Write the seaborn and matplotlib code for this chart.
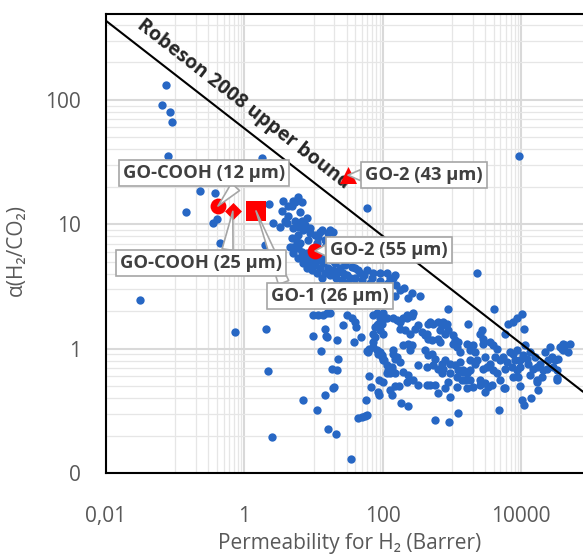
import matplotlib
matplotlib.use("Agg")
import matplotlib.pyplot as plt
from matplotlib.ticker import FixedLocator, FixedFormatter, NullFormatter
import pandas as pd
import seaborn as sns

# literature membranes: log10 of H2 permeability (Barrer) and log10 of H2/CO2 selectivity
log_perm = [
    -1.13, -1.19, -1.08, -1.05, -1.10, -0.64, -0.42, -0.84, -0.45, -0.40,
    0.25, 0.37, -0.35, -1.51, -0.14, 0.31, 0.34, 0.40, 3.97, 1.77,
    3.36,
    0.36, 0.54, 0.41, 0.51, 0.30, 0.69, 0.73, 0.77, 0.83, 0.70,
    0.62, 0.70, 0.73, 0.83, 0.90, 0.77, 0.85, 0.95, 0.77, 0.76,
    0.70, 0.95, 1.02, 1.09, 1.16, 1.05, 1.28, 1.12, 1.21, 1.24,
    1.28, 0.66, 0.70, 0.77, 0.85, 0.90, 0.98, 1.05, 1.12, 0.90,
    0.98, 1.06, 1.14, 1.21, 1.28, 1.34, 0.77, 0.83, 1.14, 1.24,
    1.27, 1.31, 1.38, 1.42, 1.48, 1.53, 1.60, 1.19, 1.48, 1.60,
    1.77, 1.96, 2.10, 2.18, 2.06, 1.86, 2.15, 1.67, 1.45, 1.70,
    1.82, 1.93, 2.03, 2.25, 2.36, 2.18,
    0.63, 0.69, 0.80, 0.88, 0.92, 0.99, 1.06, 0.80, 0.88, 0.95,
    1.02, 1.09, 1.16, 1.24, 1.32, 1.41, 1.50, 1.60, 1.70, 1.82,
    1.93, 2.03, 1.38, 1.45, 1.55, 1.64, 1.73, 1.84, 1.96, 2.08,
    2.19, 2.31, 2.42, 2.54, 0.56, 0.63, 1.16, 1.06, 0.59,
    0.99, 1.06, 1.14, 1.19, 0.99, 1.16, 1.18, 1.34, 1.11, 1.35,
    1.27, 1.34, 1.42, 1.48, 1.55, 1.60, 1.58, 1.61, 1.69, 1.19,
    1.24, 1.16, 1.28, 0.85, 1.05, 1.29, 1.21, 1.32, 1.54, 1.64,
    1.70, 1.74, 1.77, 1.76, 1.83, 1.93, 1.95, 2.10, 2.13, 2.18,
    2.26, 2.36, 2.00, 2.35, 1.80, 1.95,
    1.77, 1.80, 1.86, 1.92, 1.96, 1.99, 2.02, 2.06, 2.08, 2.13,
    2.10, 1.86, 1.89, 1.93, 1.96, 2.00, 1.92, 2.00, 2.06, 1.86,
    1.96, 2.03, 1.99, 1.92, 2.15, 2.21, 2.25, 2.29, 2.35, 2.44,
    2.25, 2.32, 2.39, 2.47, 2.51, 2.57, 2.61, 2.65, 2.68, 2.73,
    2.80, 2.86, 2.90, 2.94, 2.71, 2.80, 2.83, 3.01, 3.04, 3.09,
    3.22, 3.07, 1.86, 1.89, 1.79, 1.93, 1.99, 2.00, 2.15, 2.18,
    2.25, 2.29, 2.36, 2.42, 2.39, 2.61, 2.65, 2.71, 2.75, 2.13,
    2.18, 2.06, 2.29, 2.36, 2.90, 2.97, 3.04, 3.12, 3.26, 3.33,
    3.26, 3.16, 3.09, 2.80, 2.86, 2.97, 3.07, 2.51, 2.64, 2.94,
    3.23, 3.40, 2.21, 2.15, 2.23, 2.44, 2.51, 2.64, 2.68, 2.75,
    2.80, 2.86, 2.87, 3.01, 2.94, 2.97, 2.75, 2.96, 3.09, 3.14,
    3.19, 3.26, 3.30, 3.33, 3.36, 3.43, 3.45, 3.45, 3.51, 3.55,
    3.59, 3.65, 3.40, 3.48, 3.52, 3.55, 3.59, 3.65, 3.61, 3.69,
    3.74, 3.79, 3.68, 3.77, 3.81, 3.88, 3.77, 3.84, 3.88, 3.94,
    3.87, 3.94, 3.98, 3.94, 4.01, 3.88, 3.95, 4.04, 4.06, 4.03,
    4.01, 4.04, 4.08, 4.10, 4.14, 4.17, 4.23, 4.27, 4.32, 4.37,
    4.20, 4.23, 4.24, 4.30, 4.42, 4.45, 4.49, 4.46, 4.52, 4.56,
    4.60, 4.63, 4.71, 4.68, 4.53, 4.52, 4.59, 4.60, 3.45, 2.90,
    3.07, 3.22, 3.30, 3.40, 3.48, 3.58, 3.75, 3.98, 4.23, 4.52,
    2.64, 2.65, 2.83, 2.87, 2.93, 2.73, 3.16, 3.22, 2.35, 2.42,
    4.34, 4.39, 4.13, 3.91, 3.77, 3.62, 3.48, 3.26, 3.12, 4.13,
    3.69, 3.98,
]
log_alpha = [
    2.12, 1.96, 1.90, 1.82, 1.55, 1.27, 1.25, 1.10, 1.01, 1.04,
    1.53, 1.49, 0.85, 0.39, 0.13, 0.16, -0.18, -0.71, 1.55, 1.13,
    0.61,
    1.16, 1.11, 1.01, 0.98, 0.83, 1.15, 1.18, 1.22, 1.18, 1.19,
    1.01, 0.97, 1.03, 1.03, 1.05, 0.98, 0.95, 0.97, 0.91, 0.86,
    0.82, 0.93, 0.91, 0.94, 0.87, 0.85, 0.94, 0.95, 0.93, 0.95,
    0.87, 0.82, 0.77, 0.73, 0.69, 0.65, 0.63, 0.61, 0.57, 0.77,
    0.73, 0.71, 0.69, 0.65, 0.63, 0.61, 0.81, 0.78, 0.73, 0.77,
    0.71, 0.69, 0.65, 0.61, 0.59, 0.57, 0.57, 0.77, 0.71, 0.65,
    0.63, 0.61, 0.57, 0.59, 0.61, 0.61, 0.57, 0.61, 0.67, 0.55,
    0.53, 0.50, 0.50, 0.47, 0.41, 0.42,
    1.07, 0.89, 1.10, 0.99, 0.87, 0.81, 0.78, 0.85, 0.73, 0.69,
    0.67, 0.65, 0.61, 0.59, 0.57, 0.55, 0.53, 0.51, 0.49, 0.47,
    0.45, 0.43, 0.73, 0.69, 0.66, 0.63, 0.59, 0.57, 0.54, 0.53,
    0.51, 0.49, 0.45, 0.42, 1.19, 1.15, 0.82, 0.90, 1.03,
    0.27, 0.27, 0.27, 0.29, 0.10, 0.16, 0.10, 0.07, -0.02, -0.08,
    -0.16, -0.17, 0.19, 0.27, 0.25, 0.21, 0.05, 0.17, 0.09, 0.09,
    0.29, -0.37, -0.32, -0.41, -0.49, -0.31, -0.65, -0.69, -0.89, -0.56,
    -0.55, -0.54, -0.53, -0.41, -0.31, -0.35, -0.37, -0.33, -0.37, -0.30,
    -0.44, -0.46, -0.27, -0.27, -0.22, -0.25,
    -0.02, 0.00, 0.01, -0.01, -0.03, -0.05, -0.09, -0.13, -0.17, -0.15,
    -0.20, 0.12, 0.17, 0.20, 0.15, 0.12, 0.29, 0.29, 0.25, 0.27,
    0.25, 0.25, 0.20, 0.19, 0.25, 0.23, 0.21, 0.25, 0.27, 0.29,
    0.16, 0.15, 0.12, 0.16, 0.19, 0.13, 0.11, 0.08, 0.21, 0.20,
    0.21, 0.19, 0.12, 0.15, 0.07, 0.08, 0.05, 0.11, 0.07, 0.05,
    0.04, 0.01, 0.05, 0.09, -0.03, -0.04, -0.07, -0.09, -0.04, -0.08,
    -0.11, 0.03, 0.04, 0.03, -0.01, -0.01, -0.05, -0.04, -0.08, -0.17,
    -0.20, -0.20, -0.19, -0.21, -0.09, -0.12, -0.13, -0.11, -0.09, -0.12,
    -0.17, -0.19, -0.17, -0.16, -0.20, -0.20, -0.23, -0.13, -0.15, 0.32,
    0.20, 0.12, -0.07, -0.01, -0.30, -0.25, -0.29, -0.29, -0.29, -0.29,
    -0.36, -0.12, -0.16, 0.04, -0.27, -0.39, -0.57, -0.59, -0.52, -0.25,
    -0.25, -0.25, 0.03, -0.03, -0.09, 0.15, 0.08, -0.16, -0.15, -0.12,
    -0.17, -0.20, -0.25, -0.28, -0.31, 0.05, 0.03, 0.00, 0.32, -0.09,
    -0.07, -0.11, -0.49, -0.32, 0.20, 0.21, 0.12, -0.03, -0.04, -0.01,
    -0.15, -0.17, -0.15, 0.25, 0.28, -0.23, -0.23, 0.16, 0.03, -0.05,
    -0.41, -0.45, -0.08, -0.12, -0.40, -0.16, -0.15, -0.12, -0.17, -0.16,
    -0.07, -0.25, -0.33, -0.23, 0.01, -0.07, -0.09, -0.15, -0.17, 0.01,
    -0.01, 0.03, 0.04, -0.03, -0.08, -0.24, 0.00, 0.04, 0.04, -0.32,
    -0.31, -0.32, -0.31, -0.29, -0.35, -0.29, -0.32, -0.30, -0.27, -0.25,
    0.12, 0.20, 0.15, 0.21, 0.20, -0.13, -0.17, -0.20, 0.25, 0.26,
    -0.03, -0.09, -0.03, -0.09, -0.16, -0.07, -0.07, -0.01, -0.03, -0.21,
    -0.25, -0.09,
]

# this work
go_labels = ["GO-COOH (12 μm)", "GO-COOH (25 μm)", "GO-1 (26 μm)", "GO-2 (55 μm)", "GO-2 (43 μm)"]
go_perm = [0.415, 0.68, 1.47, 10.5, 31.4]
go_alpha = [14.0, 12.7, 12.8, 6.1, 24.8]
go_markers = ["o", "D", "s", "o", "^"]
go_sizes = [130, 75, 225, 130, 150]

# Robeson 2008 upper bound end points
bound_perm = [0.01, 78000]
bound_alpha = [432, 0.45]

x_ticks = [0.01, 1, 100, 10000]
x_ticklabels = ["0,01", "1", "100", "10000"]
y_ticks = [0.1, 1, 10, 100]
y_ticklabels = ["0", "1", "10", "100"]


def main() -> None:
    sns.set_theme(style="white")
    plt.rcParams["font.family"] = ["Open Sans", "DejaVu Sans"]

    lit = pd.DataFrame({"perm": [10 ** v for v in log_perm],
                        "alpha": [10 ** v for v in log_alpha]})

    fig = plt.figure(figsize=(5.83, 5.57), dpi=100)
    ax = fig.add_axes([106 / 583, 84 / 557, 477 / 583, 459 / 557])

    sns.scatterplot(data=lit, x="perm", y="alpha", color="#2767c4", s=36,
                    linewidth=0, ax=ax, zorder=3)
    ax.set_xscale("log")
    ax.set_yscale("log")
    ax.set_xlim(0.01, 78000)
    ax.set_ylim(0.1, 490)

    ax.plot(bound_perm, bound_alpha, color="black", lw=1.5, zorder=4)
    ax.text(0.97, 92, "Robeson 2008 upper bound", rotation=-37.9,
            rotation_mode="anchor", ha="center", va="center",
            fontsize=14, fontweight="bold", color="#262626", zorder=5)

    for p, a, m, s in zip(go_perm, go_alpha, go_markers, go_sizes):
        sns.scatterplot(x=[p], y=[a], marker=m, s=s, color="#ff0000",
                        linewidth=0, ax=ax, zorder=6)

    # callout boxes; GO-1 sits under the GO-COOH (25 um) box
    text_pos = [(0.261, 25.7), (0.236, 4.86), (17.3, 2.64), (123, 6.18), (393, 24.8)]
    rel = [(0.72, 0.0), (0.66, 1.0), (0.12, 1.0), (0.0, 0.5), (0.0, 0.5)]
    zs = [7, 7.5, 6.5, 7, 7]
    for lab, p, a, tp, rp, z in zip(go_labels, go_perm, go_alpha, text_pos, rel, zs):
        ax.annotate(lab, xy=(p, a), xytext=tp, textcoords="data",
                    ha="center", va="center", fontsize=13.2, fontweight="bold",
                    color="#404040", zorder=z,
                    bbox=dict(boxstyle="square,pad=0.22", fc="white", ec="#a6a6a6", lw=1.2),
                    arrowprops=dict(arrowstyle="wedge,tail_width=0.6,shrink_factor=0.5",
                                    fc="white", ec="#a6a6a6", lw=1.2, relpos=rp,
                                    shrinkA=0, shrinkB=0))

    x_minor = [j * 10.0 ** e for e in (-1, 1, 3) for j in range(1, 10)]
    y_minor = [j * 10.0 ** e for e in (-1, 0, 1, 2) for j in range(2, 10)]
    ax.xaxis.set_major_locator(FixedLocator(x_ticks))
    ax.xaxis.set_major_formatter(FixedFormatter(x_ticklabels))
    ax.xaxis.set_minor_locator(FixedLocator(x_minor))
    ax.xaxis.set_minor_formatter(NullFormatter())
    ax.yaxis.set_major_locator(FixedLocator(y_ticks))
    ax.yaxis.set_major_formatter(FixedFormatter(y_ticklabels))
    ax.yaxis.set_minor_locator(FixedLocator(y_minor))
    ax.yaxis.set_minor_formatter(NullFormatter())

    ax.grid(which="major", color="#d9d9d9", lw=1.5, zorder=0)
    ax.grid(which="minor", color="#e6e6e6", lw=0.9, zorder=0)
    ax.set_axisbelow(True)
    ax.tick_params(which="both", length=0, labelsize=15, labelcolor="#595959")
    ax.tick_params(axis="x", pad=24)
    ax.tick_params(axis="y", pad=18)

    for side in ("left", "top", "bottom"):
        ax.spines[side].set_color("black")
        ax.spines[side].set_linewidth(1.5)
    ax.spines["right"].set_visible(False)

    ax.set_xlabel("Permeability for H₂ (Barrer)", fontsize=15, color="#595959")
    ax.set_ylabel("α(H₂/CO₂)", fontsize=15, color="#595959")
    ax.xaxis.set_label_coords(0.511, -0.13)
    ax.yaxis.set_label_coords(-0.166, 0.486)

    fig.savefig("out.png", dpi=100)


if __name__ == "__main__":
    main()
